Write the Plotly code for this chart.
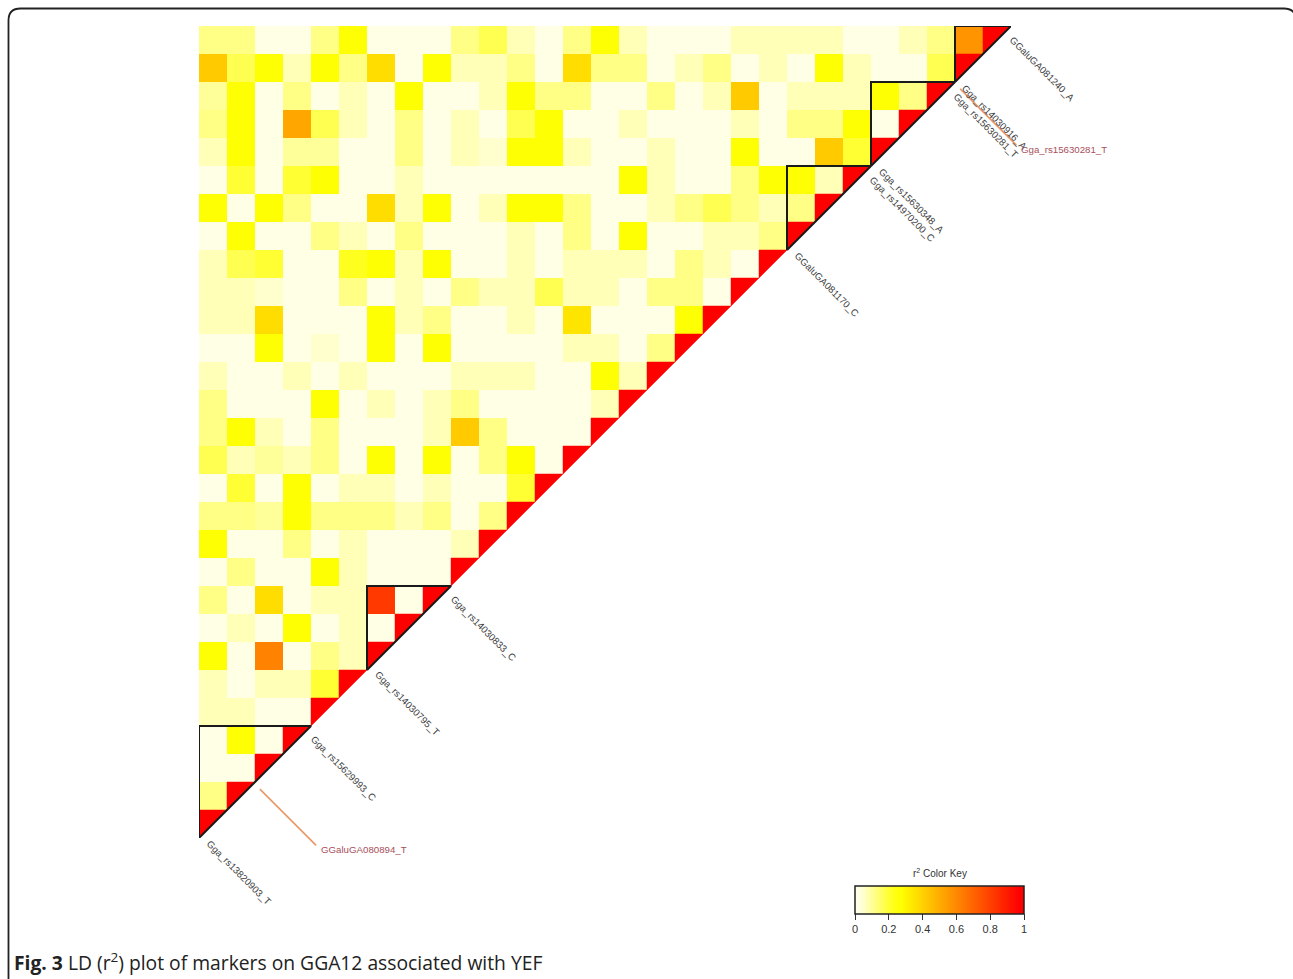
import plotly.graph_objects as go

# ---------------- data ----------------
# r^2 values. Row k belongs to marker j = 28 - k (top row = last marker) and lists
# its r^2 with markers 0 .. j-1 (left to right).
ld_r2 = [
    [0.12,0.12,0.02,0.02,0.12,0.27,0.02,0.02,0.02,0.12,0.17,0.07,0.02,0.12,0.27,0.07,0.02,0.02,0.02,0.07,0.07,0.07,0.07,0.02,0.02,0.07,0.12,0.57],
    [0.42,0.17,0.27,0.07,0.27,0.12,0.37,0.02,0.27,0.07,0.07,0.12,0.02,0.37,0.12,0.12,0.02,0.07,0.12,0.02,0.07,0.02,0.27,0.07,0.02,0.02,0.17],
    [0.10,0.27,0.02,0.12,0.02,0.07,0.02,0.27,0.02,0.02,0.07,0.27,0.12,0.12,0.02,0.02,0.12,0.02,0.07,0.42,0.02,0.07,0.07,0.07,0.27,0.12],
    [0.12,0.27,0.02,0.52,0.17,0.07,0.02,0.12,0.02,0.07,0.02,0.17,0.27,0.02,0.02,0.07,0.02,0.02,0.02,0.07,0.02,0.12,0.12,0.27,0.02],
    [0.07,0.27,0.02,0.10,0.10,0.02,0.02,0.12,0.02,0.07,0.05,0.27,0.27,0.07,0.02,0.02,0.07,0.02,0.02,0.27,0.02,0.02,0.42,0.20],
    [0.02,0.20,0.02,0.20,0.27,0.02,0.02,0.07,0.02,0.02,0.02,0.02,0.02,0.02,0.02,0.27,0.07,0.02,0.02,0.12,0.27,0.27,0.07],
    [0.27,0.02,0.27,0.12,0.02,0.02,0.37,0.07,0.27,0.02,0.07,0.27,0.27,0.12,0.02,0.02,0.07,0.12,0.17,0.12,0.07,0.12],
    [0.02,0.27,0.02,0.02,0.12,0.07,0.02,0.12,0.02,0.02,0.02,0.07,0.02,0.12,0.02,0.27,0.02,0.02,0.07,0.07,0.12],
    [0.07,0.17,0.20,0.02,0.02,0.22,0.27,0.07,0.27,0.02,0.02,0.07,0.02,0.07,0.07,0.07,0.02,0.12,0.07,0.02],
    [0.07,0.07,0.05,0.02,0.02,0.12,0.02,0.07,0.02,0.12,0.07,0.07,0.17,0.07,0.07,0.02,0.12,0.12,0.02],
    [0.07,0.07,0.37,0.02,0.02,0.02,0.27,0.07,0.12,0.02,0.02,0.07,0.02,0.35,0.02,0.02,0.02,0.27],
    [0.02,0.02,0.27,0.02,0.05,0.02,0.27,0.02,0.27,0.02,0.02,0.02,0.02,0.07,0.07,0.02,0.12],
    [0.07,0.02,0.02,0.07,0.02,0.07,0.02,0.02,0.02,0.07,0.07,0.07,0.02,0.02,0.27,0.07],
    [0.12,0.02,0.02,0.02,0.27,0.02,0.07,0.02,0.07,0.12,0.02,0.02,0.02,0.02,0.07],
    [0.12,0.27,0.07,0.02,0.12,0.02,0.02,0.02,0.07,0.42,0.12,0.02,0.02,0.02],
    [0.17,0.07,0.10,0.07,0.12,0.02,0.27,0.02,0.27,0.02,0.12,0.27,0.02],
    [0.02,0.20,0.02,0.27,0.02,0.07,0.07,0.02,0.07,0.02,0.02,0.20],
    [0.12,0.12,0.10,0.27,0.12,0.12,0.12,0.07,0.12,0.02,0.12],
    [0.27,0.02,0.02,0.12,0.02,0.07,0.02,0.02,0.02,0.07],
    [0.02,0.12,0.02,0.02,0.27,0.07,0.02,0.02,0.02],
    [0.12,0.02,0.37,0.02,0.07,0.07,0.82,0.02],
    [0.02,0.07,0.02,0.27,0.02,0.07,0.02],
    [0.27,0.02,0.62,0.02,0.12,0.07],
    [0.07,0.02,0.07,0.07,0.20],
    [0.07,0.07,0.02,0.02],
    [0.02,0.27,0.02],
    [0.02,0.02],
    [0.12],
]

label_names = ["Gga_rs13820903_T", "Gga_rs15629993_C", "Gga_rs14030795_T", "Gga_rs14030833_C",
               "GGaluGA081170_C", "Gga_rs14970200_C", "Gga_rs15630348_A", "Gga_rs15630281_T",
               "Gga_rs14030916_A", "GGaluGA081240_A"]
label_pos = [0.1, 3.83, 6.12, 8.83, 21.1, 23.8, 24.1, 26.78, 27.08, 28.8]

highlight_names = ["GGaluGA080894_T", "Gga_rs15630281_T"]
highlight_pos = [1.96, 26.97]

block_start = [0, 6, 21, 24, 27]
block_end = [3, 8, 23, 26, 28]

key_ticks = [0, 0.2, 0.4, 0.6, 0.8, 1]
key_ticktext = ["0", "0.2", "0.4", "0.6", "0.8", "1"]
key_title = "r<sup>2</sup> Color Key"

caption_bold = "Fig. 3"
caption_text = "LD (r<sup>2</sup>) plot of markers on GGA12 associated with YEF"

# ---------------- style ----------------
W, H = 1293, 979
CELL = 28
X0, Y0 = 199, 26
LABEL_FONT = "Arial, Liberation Sans"
heat20 = ["#FFFFE6", "#FFFFB3", "#FFFF80", "#FFFF4D", "#FFFF1A", "#FFFF00", "#FFED00", "#FFDB00",
          "#FFC800", "#FFB600", "#FFA400", "#FF9200", "#FF8000", "#FF6D00", "#FF5B00", "#FF4900",
          "#FF3700", "#FF2400", "#FF1200", "#FF0000"]
colorscale = [[0, heat20[0]]] + [[(k + 0.5) / 20, c] for k, c in enumerate(heat20)] + [[1, heat20[-1]]]

N = len(ld_r2) + 1
z = [[None] * N for _ in range(N)]
for k, row in enumerate(ld_r2):
    j = N - 1 - k
    for i, v in enumerate(row):
        z[j][i] = v

centers = [i + 0.5 for i in range(N)]


def to_paper(x, y):
    """data units (cells) -> paper fraction"""
    return (X0 + x * CELL) / W, 1 - (Y0 + (N - y) * CELL) / H


fig = go.Figure()
fig.add_trace(go.Heatmap(
    x=centers, y=centers, z=z, zmin=0, zmax=1, colorscale=colorscale,
    hoverinfo="skip", xgap=0, ygap=0,
    colorbar=dict(
        orientation="h", thicknessmode="pixels", thickness=28,
        lenmode="pixels", len=169,
        x=939.5 / W, xanchor="center", y=1 - 886 / H, yanchor="top",
        xpad=0, ypad=0,
        outlinewidth=1.5, outlinecolor="#222",
        tickvals=key_ticks, ticktext=key_ticktext, ticks="outside", ticklen=6,
        tickcolor="#333", tickwidth=1,
        tickfont=dict(family=LABEL_FONT, size=11, color="#333"),
    ),
))

# diagonal (r^2 = 1) half cells
dx, dy = [], []
for i in range(N):
    dx += [i, i, i + 1, i, None]
    dy += [i, i + 1, i + 1, i, None]
fig.add_trace(go.Scatter(x=dx, y=dy, mode="lines", fill="toself", fillcolor="#FF0000",
                         line=dict(width=0.5, color="#FF0000"), hoverinfo="skip", showlegend=False))

# LD blocks
bx, by = [], []
for s, e in zip(block_start, block_end):
    bx += [s, s, e + 1, s, None]
    by += [s, e + 1, e + 1, s, None]
fig.add_trace(go.Scatter(x=bx, y=by, mode="lines", line=dict(color="#1a1a1a", width=2),
                         hoverinfo="skip", showlegend=False))

annotations = []
for name, t in zip(label_names, label_pos):
    xp, yp = to_paper(t, t)
    annotations.append(dict(x=xp, y=yp, xref="paper", yref="paper", text=name, showarrow=False,
                            textangle=45, xanchor="left", yanchor="top",
                            font=dict(family=LABEL_FONT, size=9.7, color="#404040")))

shapes = []
u = 1 / (CELL * 2 ** 0.5)
for name, t in zip(highlight_names, highlight_pos):
    x0, y0 = to_paper(t + 8.5 * u, t - 8.5 * u)
    x1, y1 = to_paper(t + 88 * u, t - 88 * u)
    shapes.append(dict(type="line", xref="paper", yref="paper", x0=x0, y0=y0, x1=x1, y1=y1,
                       line=dict(color="#E89868", width=1.6)))
    annotations.append(dict(x=x1, y=y1, xref="paper", yref="paper", text=name, showarrow=False,
                            xanchor="left", yanchor="middle", xshift=3, yshift=-4,
                            font=dict(family=LABEL_FONT, size=9.7, color="#A8505C")))

annotations.append(dict(x=939.5 / W, y=1 - 873 / H, xref="paper", yref="paper", text=key_title,
                        showarrow=False, xanchor="center", yanchor="middle",
                        font=dict(family=LABEL_FONT, size=10, color="#333")))

annotations.append(dict(x=12 / W, y=1 - 962 / H, xref="paper", yref="paper",
                        text="<b>" + caption_bold + "</b> " + caption_text, showarrow=False,
                        xanchor="left", yanchor="middle",
                        font=dict(family="Open Sans", size=19.3, color="#222")))

# rounded frame
def px(xp, yp):
    return "%.5f,%.5f" % (xp / W, 1 - yp / H)
L, T, R, B, rad = 8.5, 8.5, 1296, 990, 12
path = ("M " + px(L + rad, T) + " L " + px(R - rad, T) + " Q " + px(R, T) + " " + px(R, T + rad)
        + " L " + px(R, B - rad) + " Q " + px(R, B) + " " + px(R - rad, B)
        + " L " + px(L + rad, B) + " Q " + px(L, B) + " " + px(L, B - rad)
        + " L " + px(L, T + rad) + " Q " + px(L, T) + " " + px(L + rad, T) + " Z")
shapes.append(dict(type="path", xref="paper", yref="paper", path=path,
                   line=dict(color="#222", width=1.8), layer="above"))

fig.update_layout(
    width=W, height=H,
    margin=dict(l=0, r=0, t=0, b=0, autoexpand=False),
    paper_bgcolor="white", plot_bgcolor="white",
    xaxis=dict(domain=[X0 / W, (X0 + N * CELL) / W], range=[0, N], visible=False, fixedrange=True),
    yaxis=dict(domain=[1 - (Y0 + N * CELL) / H, 1 - Y0 / H], range=[0, N], visible=False, fixedrange=True),
    annotations=annotations, shapes=shapes, showlegend=False,
)

fig.write_html("out.html", config={"displayModeBar": False, "staticPlot": True},
               post_script="document.body.style.margin='0px';document.body.style.overflow='hidden';")
